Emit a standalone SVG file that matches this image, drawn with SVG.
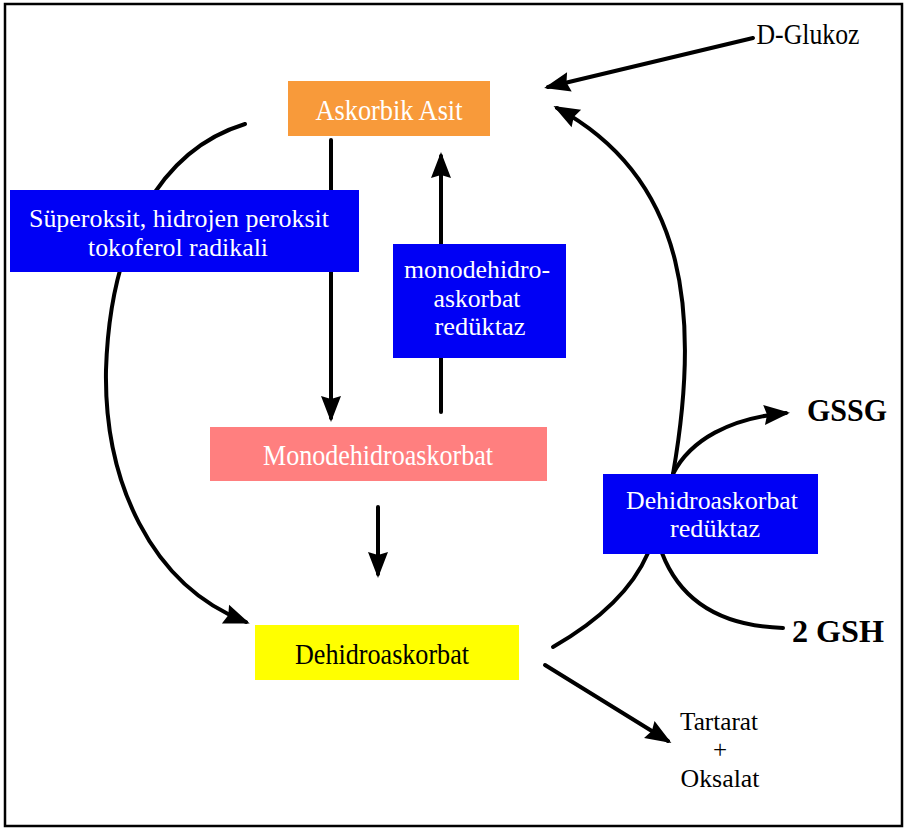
<svg xmlns="http://www.w3.org/2000/svg" width="905" height="828" viewBox="0 0 905 828">
<style>
.ln{fill:none;stroke:#000;stroke-width:4;stroke-linecap:round}
.t{font-family:"Liberation Serif","Times New Roman",serif;font-size:29px;text-anchor:middle}
.m{font-size:25px}
.w{fill:#fff}
.k{fill:#000}
.b{font-weight:bold;font-size:31px}
</style>
<defs>
<marker id="ah" markerUnits="userSpaceOnUse" markerWidth="26" markerHeight="22" refX="22" refY="11" orient="auto" overflow="visible">
<path d="M0,1 L26,11 L0,21 L3,11 Z" fill="#000"/>
</marker>
</defs>
<rect x="5" y="4" width="897" height="822" fill="#fff" stroke="#000" stroke-width="2.5"/>
<g id="connectors">
<line class="ln" x1="331" y1="140" x2="331" y2="418" marker-end="url(#ah)"/>
<line class="ln" x1="441" y1="412" x2="441" y2="156" marker-end="url(#ah)"/>
<line class="ln" x1="378" y1="507" x2="378" y2="574" marker-end="url(#ah)"/>
<path class="ln" d="M245,124 C160,150 110,240 106,370 C104,480 150,585 246,622" marker-end="url(#ah)"/>
<line class="ln" x1="753" y1="38" x2="548" y2="87" marker-end="url(#ah)"/>
<path class="ln" d="M553,647 C600,620 632,590 648,553"/>
<path class="ln" d="M673,474 C700,320 690,180 557,108" marker-end="url(#ah)"/>
<path class="ln" d="M673,474 C690,440 730,418 786,413" marker-end="url(#ah)"/>
<path class="ln" d="M662,553 C680,600 720,626 783,628"/>
<line class="ln" x1="545" y1="665" x2="668" y2="741" marker-end="url(#ah)"/>
</g>
<g id="askorbik-asit">
<rect x="288" y="81" width="202" height="55" fill="#F89A3A"/>
<text class="t w" x="389" y="120" textLength="147" lengthAdjust="spacingAndGlyphs">Askorbik Asit</text>
</g>
<g id="superoksit">
<rect x="10" y="190" width="349" height="82" fill="#0000F5"/>
<text class="t m w" x="179" y="227" textLength="300" lengthAdjust="spacingAndGlyphs">Süperoksit, hidrojen peroksit</text>
<text class="t m w" x="178" y="256" textLength="180" lengthAdjust="spacingAndGlyphs">tokoferol radikali</text>
</g>
<g id="mda-reduktaz">
<rect x="393" y="244" width="173" height="114" fill="#0000F5"/>
<text class="t m w" x="477" y="278" textLength="146" lengthAdjust="spacingAndGlyphs">monodehidro-</text>
<text class="t m w" x="477" y="307" textLength="87" lengthAdjust="spacingAndGlyphs">askorbat</text>
<text class="t m w" x="480" y="335" textLength="91" lengthAdjust="spacingAndGlyphs">redüktaz</text>
</g>
<g id="monodehidroaskorbat">
<rect x="210" y="427" width="337" height="54" fill="#FF7F7F"/>
<text class="t w" x="378" y="465" textLength="230" lengthAdjust="spacingAndGlyphs">Monodehidroaskorbat</text>
</g>
<g id="dehidroaskorbat">
<rect x="255" y="625" width="264" height="55" fill="#FFFF00"/>
<text class="t k" x="382" y="664" textLength="174" lengthAdjust="spacingAndGlyphs">Dehidroaskorbat</text>
</g>
<g id="dha-reduktaz">
<rect x="603" y="474" width="215" height="80" fill="#0000F5"/>
<text class="t m w" x="712" y="509" textLength="172" lengthAdjust="spacingAndGlyphs">Dehidroaskorbat</text>
<text class="t m w" x="715" y="537" textLength="90" lengthAdjust="spacingAndGlyphs">redüktaz</text>
</g>
<g id="d-glukoz">
<text class="t k" x="808" y="44" font-size="27" textLength="103" lengthAdjust="spacingAndGlyphs">D-Glukoz</text>
</g>
<g id="gssg">
<text class="t k b" x="847" y="421" textLength="80" lengthAdjust="spacingAndGlyphs">GSSG</text>
</g>
<g id="gsh">
<text class="t k b" x="838" y="642" textLength="92" lengthAdjust="spacingAndGlyphs">2 GSH</text>
</g>
<g id="tartarat-oksalat">
<text class="t m k" x="719" y="730" textLength="78" lengthAdjust="spacingAndGlyphs">Tartarat</text>
<text class="t m k" x="720" y="758">+</text>
<text class="t m k" x="720" y="787" textLength="79" lengthAdjust="spacingAndGlyphs">Oksalat</text>
</g>
</svg>
